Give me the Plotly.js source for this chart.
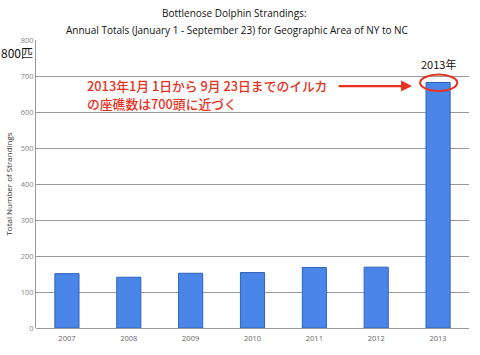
<!DOCTYPE html>
<html>
<head>
<meta charset="utf-8">
<script src="https://cdn.plot.ly/plotly-3.0.1.min.js"></script>
<style>html,body{margin:0;padding:0;background:#fff;}#chart{width:480px;height:355px;}</style>
</head>
<body>
<div id="chart"></div>
<script>
const years = ['2007','2008','2009','2010','2011','2012','2013'];
const strandings = [151, 141, 152, 154, 168, 169, 682];
const yTicks = [0,100,200,300,400,500,600,700,800];
const titleLines = ['Bottlenose Dolphin Strandings:', 'Annual Totals (January 1 - September 23) for Geographic Area of NY to NC'];
const yTitle = 'Total Number of Strandings';
const noteLines = ['2013年1月 1日から 9月 23日までのイルカ', 'の座礁数は700頭に近づく'];
const topLabel = '800匹';
const highlightLabel = '2013年';

const last = strandings.length - 1;
const trace = {
  type: 'bar', x: years, y: strandings,
  marker: {color: '#4a86e8', line: {color: '#2f62b8', width: 1}},
  hoverinfo: 'none'
};
const titleFont = {family: 'Open Sans, sans-serif', size: 10, color: '#111'};
const noteFont = {family: 'Noto Sans CJK JP, sans-serif', size: 12.8, color: '#e8321e', weight: 500};
const layout = {
  width: 480, height: 355,
  margin: {l: 36, r: 11, t: 40, b: 27},
  paper_bgcolor: '#fff', plot_bgcolor: '#fff',
  bargap: 0.61,
  showlegend: false,
  title: {text: titleLines[0], font: titleFont,
    x: 0.488, xanchor: 'center', xref: 'container', yref: 'container', y: 0.963, yanchor: 'middle'},
  xaxis: {type: 'category', tickfont: {family: 'Open Sans, sans-serif', size: 7.5, color: '#666'}, showgrid: false, showline: false, ticks: '', ticklabelstandoff: 4, fixedrange: true},
  yaxis: {range: [0, 800], tickvals: yTicks, tickfont: {family: 'Open Sans, sans-serif', size: 7.5, color: '#888'},
    showgrid: true, gridcolor: '#999', gridwidth: 1, zeroline: true, zerolinecolor: '#999',
    showline: true, linecolor: '#999', ticks: '', ticklen: 0,
    title: {text: yTitle, font: {family: 'Open Sans, sans-serif', size: 8, color: '#333'}, standoff: 6}},
  shapes: [
    {type: 'circle', xref: 'x', yref: 'y', x0: last - 0.29, x1: last + 0.31, y0: strandings[last] - 24, y1: strandings[last] + 22,
     line: {color: '#e8321e', width: 2}, fillcolor: 'rgba(0,0,0,0)'}
  ],
  annotations: [
    {xref: 'paper', yref: 'paper', x: 0.464, y: 1.035, xanchor: 'center', yanchor: 'middle', showarrow: false,
     text: titleLines[1], font: titleFont},
    {xref: 'paper', yref: 'paper', x: 0.113, y: 0.842, xanchor: 'left', yanchor: 'middle', showarrow: false,
     text: noteLines[0], font: noteFont},
    {xref: 'paper', yref: 'paper', x: 0.113, y: 0.779, xanchor: 'left', yanchor: 'middle', showarrow: false,
     text: noteLines[1], font: noteFont},
    {xref: 'x', yref: 'y', x: last - 0.42, y: strandings[last] - 10, ax: -75, ay: 0, showarrow: true, arrowhead: 2, arrowsize: 1,
     arrowwidth: 2.2, arrowcolor: '#e8321e', text: ''},
    {xref: 'x', yref: 'y', x: last, y: strandings[last] + 24, yanchor: 'bottom', showarrow: false, text: highlightLabel,
     font: {family: 'Noto Sans CJK JP, sans-serif', size: 11, color: '#111'}},
    {xref: 'paper', yref: 'paper', x: -0.085, y: 0.955, xanchor: 'left', yanchor: 'middle', showarrow: false, text: topLabel,
     font: {family: 'Noto Sans CJK JP, sans-serif', size: 12, color: '#111'}}
  ]
};
Plotly.newPlot('chart', [trace], layout, {displayModeBar: false, staticPlot: true});
</script>
</body>
</html>
